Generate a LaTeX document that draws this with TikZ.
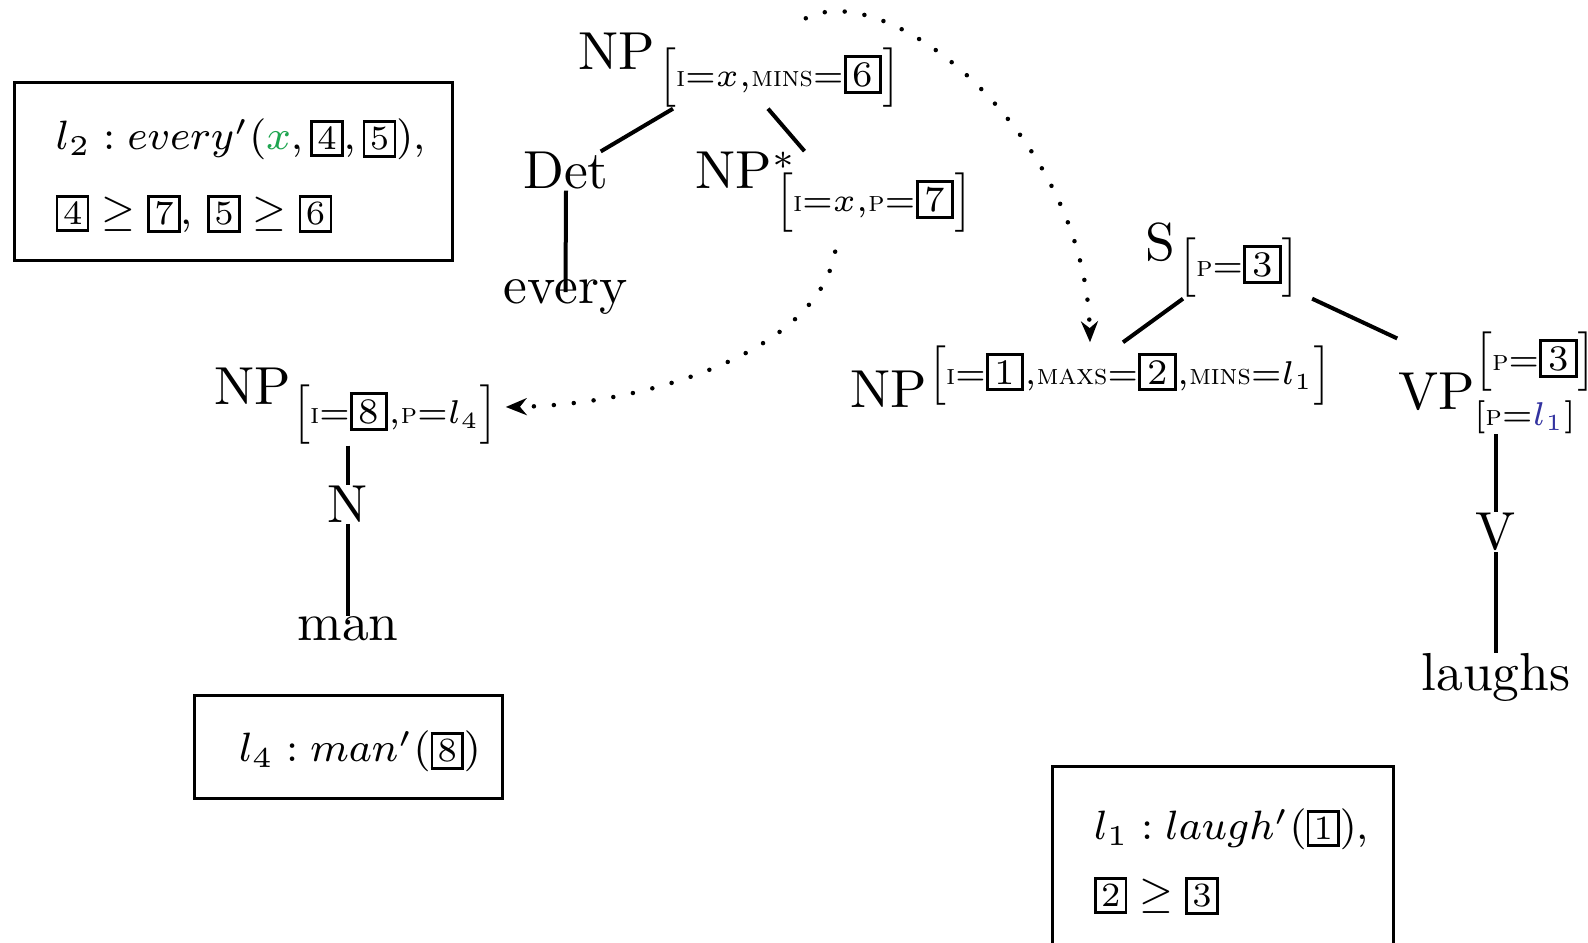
\RequirePackage{fix-cm}
\documentclass[tikz,border=0pt]{standalone}
\usepackage{amssymb,amsmath}
\usepackage{tikz}
\usetikzlibrary{arrows.meta}

\definecolor{bindgreen}{RGB}{30,165,80}
\definecolor{labelblue}{RGB}{50,50,160}

% boxed tags: \bx in the formulas, \fbx in the feature structures
\newcommand{\bx}[1]{\mbox{\fontsize{6.8}{8}\selectfont\setlength{\fboxsep}{0.9pt}\setlength{\fboxrule}{0.5pt}\fbox{#1}}}
\newcommand{\fbx}[1]{\mbox{\fontsize{7.2}{8}\selectfont\setlength{\fboxsep}{0.8pt}\setlength{\fboxrule}{0.6pt}\fbox{\kern0.4pt#1\kern0.4pt}}}
\newcommand{\feat}[1]{\text{\fontsize{5.8}{7}\selectfont\textsc{#1}}}

\begin{document}
\begin{tikzpicture}[x=0.2pt,y=-0.2pt,
    cat/.style={anchor=base,inner sep=0pt,font=\fontsize{10.7}{13}\selectfont},
    feats/.style={anchor=west,inner sep=0pt,font=\fontsize{6.6}{8}\selectfont},
    formula/.style={anchor=base west,inner sep=0pt,font=\fontsize{8.2}{10}\selectfont},
    formbox/.style={draw,line width=0.6pt,inner sep=0pt},
    branch/.style={line width=0.8pt},
    link/.style={->,line width=0.9pt,line cap=round,dash pattern=on 0pt off 4pt},
    >={Stealth[length=4.2pt,width=3.4pt]}]

\useasboundingbox (0,0) rectangle (1588,943);

% elementary tree for "every"
\node[cat] (np1) at (616.5,70) {NP};
\node[feats] (np1f) at (657,78) {$\left[\feat{i}{=}x{,}\feat{mins}{=}\fbx{6}\right]$};
\node[cat] (det) at (566,189) {Det};
\node[cat] (every) at (565.5,304) {every};
\node[cat] (nps) at (746,189) {NP$^*$};
\node[feats] (npsf) at (774,203) {$\left[\feat{i}{=}x{,}\feat{p}{=}\fbx{7}\right]$};

\draw[branch] ([xshift=3.2pt]np1f.south west) -- ([xshift=-1.8pt]det.north east);
\draw[branch] ([xshift=22.2pt]np1f.south west) -- ([xshift=1.4pt]nps.north east);
\draw[branch] (det.south) -- ([yshift=-2.6pt]every.north);

% elementary tree for "man"
\node[cat] (np2) at (252.5,405) {NP};
\node[feats] (np2f) at (291,415) {$\left[\feat{i}{=}\fbx{8}{,}\feat{p}{=}l_4\right]$};
\node[cat] (n) at (348,523) {N};
\node[cat] (man) at (348,641) {man};

\draw[branch] (n.north |- np2f.south) -- (n.north);
\draw[branch] (n.south) -- (man.north);

% elementary tree for "laughs"
\node[cat] (s) at (1160.5,261) {S};
\node[feats] (sf) at (1177,268) {$\left[\feat{p}{=}\fbx{3}\right]$};
\node[cat] (np3) at (888.5,408) {NP};
\node[feats] (np3f) at (927,376) {$\left[\feat{i}{=}\fbx{1}{,}\feat{maxs}{=}\fbx{2}{,}\feat{mins}{=}l_1\right]$};
\node[cat] (vp) at (1436.5,410) {VP};
\node[feats] (vpf1) at (1473,362) {$\left[\feat{p}{=}\fbx{3}\right]$};
\node[feats] (vpf2) at (1473,417) {$\left[\feat{p}{=}\textcolor{labelblue}{l_1}\right]$};
\node[cat] (v) at (1496,550) {V};
\node[cat] (laughs) at (1496,691) {laughs};

\draw[branch] ([xshift=1.2pt]sf.south west) -- ([xshift=39.2pt,yshift=0.6pt]np3f.north west);
\draw[branch] ([xshift=2.2pt]sf.south east) -- ([yshift=6.8pt]vp.north west);
\draw[branch] (v.north |- vpf2.south) -- (v.north);
\draw[branch] (v.south) -- (laughs.north);

% substitution and adjunction
\draw[link] ([shift={(-7.7pt,-3.6pt)}]npsf.south) .. controls +(-18,102) and +(137,-2) .. ([shift={(1.4pt,1.6pt)}]np2f.east);
\draw[link] ([shift={(5.3pt,5.8pt)}]np1f.north) .. controls +(83,-43) and +(-5,-207) .. ([shift={(32.6pt,0.6pt)}]np3f.north west);

% semantic representations
\node[formbox,minimum width=87.4pt,minimum height=35.6pt] (everybox) at (233.5,172) {};
\node[formula] (ev1) at (55,150) {$l_2 : every'(\textcolor{bindgreen}{x}, \bx{4}, \bx{5})$,};
\node[formula] (ev2) at (55,225) {$\bx{4} \geq \bx{7}$, $\bx{5} \geq \bx{6}$};

\node[formbox,minimum width=61.4pt,minimum height=20.6pt] (manbox) at (348.5,747.5) {};
\node[formula] (man1) at (238,762) {$l_4 : man'(\bx{8})$};

\node[formbox,minimum width=68.2pt,minimum height=40pt] (laughbox) at (1222.5,867) {};
\node[formula] (la1) at (1093,840) {$l_1 : laugh'(\bx{1})$,};
\node[formula] (la2) at (1093,907) {$\bx{2} \geq \bx{3}$};

\end{tikzpicture}
\end{document}
